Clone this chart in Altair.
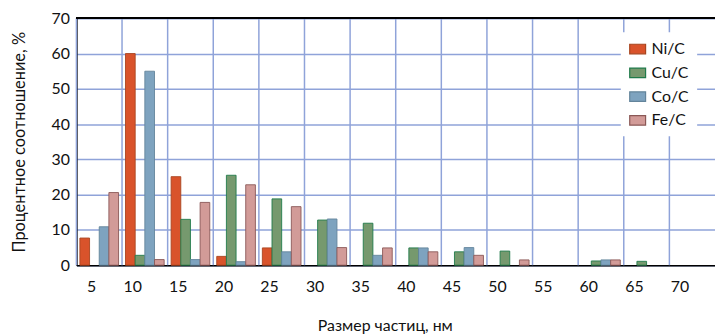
import altair as alt
import pandas as pd

sizes = ["5", "10", "15", "20", "25", "30", "35", "40", "45", "50", "55", "60", "65", "70"]
series = ["Ni/C", "Cu/C", "Co/C", "Fe/C"]
ni = [7.7, 60, 25.1, 2.5, 4.9, 0, 0, 0, 0, 0, 0, 0, 0, 0]
cu = [0, 2.8, 13.0, 25.5, 18.8, 12.8, 11.9, 4.9, 3.8, 4.0, 0, 1.2, 1.1, 0]
co = [10.9, 55, 1.6, 1.0, 3.8, 13.1, 2.8, 4.9, 5.0, 0, 0, 1.5, 0, 0]
fe = [20.6, 1.6, 17.8, 22.8, 16.6, 5.0, 4.9, 3.8, 2.8, 1.5, 0, 1.5, 0, 0]
fills = ["#d9532b", "#76996e", "#7ea3bf", "#d29b98"]
strokes = ["#a8451f", "#1f7a4a", "#63849b", "#8a5856"]

rows = []
for name, vals in zip(series, [ni, cu, co, fe]):
    for s, v in zip(sizes, vals):
        rows.append({"size": s, "series": name, "value": v})
df = pd.DataFrame(rows)
df = df[df["value"] > 0]
grid_df = pd.DataFrame({"size": sizes})

FONT = "Lato"
GRID = "#8fa3d9"

xscale = alt.Scale(domain=sizes, paddingInner=0, paddingOuter=0)

bars = alt.Chart(df).mark_bar(strokeWidth=1, strokeOpacity=0.9).encode(
    x=alt.X("size:N", scale=xscale, sort=sizes,
            axis=alt.Axis(title="Размер частиц, нм", labelAngle=0, ticks=False, grid=False,
                          domain=True, domainColor="#000000", domainWidth=1.5,
                          labelFontSize=16, labelFont=FONT, labelColor="#111111",
                          labelPadding=22, labelOffset=-3,
                          titleFont=FONT, titleFontSize=16, titleFontWeight="normal",
                          titleColor="#111111", titlePadding=23, titleX=311)),
    xOffset=alt.XOffset("series:N", sort=series,
                        scale=alt.Scale(domain=series, paddingOuter=0.36, paddingInner=0)),
    y=alt.Y("value:Q", scale=alt.Scale(domain=[0, 70], nice=False),
            axis=alt.Axis(title="Процентное соотношение, %", values=list(range(0, 71, 10)),
                          ticks=False, grid=True, gridColor=GRID, gridWidth=1.5,
                          domain=True, domainColor="#000000", domainWidth=1.5,
                          labelFontSize=16, labelFont=FONT, labelColor="#111111",
                          labelPadding=7, titleFont=FONT, titleFontSize=16.5,
                          titleFontWeight="normal", titleColor="#111111", titlePadding=24)),
    fill=alt.Fill("series:N", sort=series, scale=alt.Scale(domain=series, range=fills),
                  legend=alt.Legend(title=None, orient="none", legendX=549, legendY=14,
                                    fillColor="white", padding=8, rowPadding=7,
                                    symbolType="M-1,-0.6H1V0.6H-1Z", symbolSize=256,
                                    symbolStrokeWidth=1.2, labelFont=FONT, labelFontSize=16,
                                    labelColor="#111111", labelOffset=5)),
    stroke=alt.Stroke("series:N", sort=series, scale=alt.Scale(domain=series, range=strokes)),
)

vgrid = alt.Chart(grid_df).mark_rule(color=GRID, strokeWidth=1.5).encode(
    x=alt.X("size:N", scale=xscale, sort=sizes, bandPosition=0),
)

toprule = alt.Chart(grid_df).mark_rule(color="#000000", strokeWidth=1.5).encode(
    x=alt.value(0), x2=alt.value(644), y=alt.value(0)
)

chart = alt.layer(vgrid, bars, toprule).properties(
    width=644, height=249,
    autosize=alt.AutoSizeParams(type="none"),
    padding={"left": 69, "top": 9, "right": 0, "bottom": 68},
).configure_view(stroke=None).configure(background="white")

chart.save("out.html", embed_options={"renderer": "svg", "actions": False})
